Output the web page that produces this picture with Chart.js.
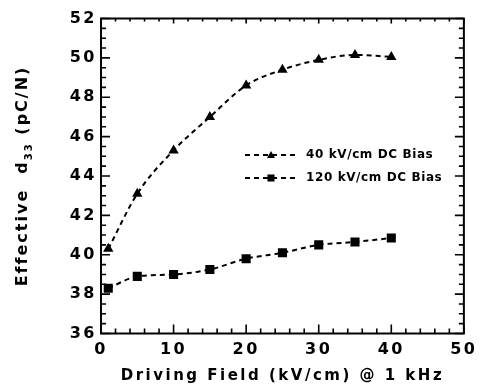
<!DOCTYPE html>
<html>
<head>
<meta charset="utf-8">
<script src="https://cdn.jsdelivr.net/npm/chart.js@4.4.1/dist/chart.umd.min.js"></script>
<style>
  html, body { margin: 0; padding: 0; background: #fff; }
  #wrap { width: 482px; height: 385px; }
</style>
</head>
<body>
<div id="wrap"><canvas id="c" width="482" height="385"></canvas></div>
<script>
// ---- data ----
const drivingField = [1, 5, 10, 15, 20, 25, 30, 35, 40];
const bias40 = [40.3, 43.1, 45.3, 47.0, 48.6, 49.4, 49.9, 50.15, 50.05];
const bias120 = [38.3, 38.9, 39.0, 39.25, 39.8, 40.1, 40.5, 40.65, 40.85];
const seriesLabels = ['40 kV/cm DC Bias', '120 kV/cm DC Bias'];
const xTicks = [0, 10, 20, 30, 40, 50];
const yTicks = [36, 38, 40, 42, 44, 46, 48, 50, 52];
const xTitle = 'Driving Field (kV/cm) @ 1 kHz';
const yTitleParts = ['Effective  d', '33', ' (pC/N)'];

const FONT = '"DejaVu Sans", "Liberation Sans", Arial, sans-serif';

function pts(ys) { return drivingField.map((x, i) => ({ x: x, y: ys[i] })); }

const spacingPlugin = {
  id: 'spacing',
  beforeDraw(chart) { chart.ctx.letterSpacing = '2.5px'; },
  afterDatasetsDraw(chart) { chart.ctx.letterSpacing = '0px'; }
};

const framePlugin = {
  id: 'frame',
  afterDraw(chart) {
    const ctx = chart.ctx;
    const a = chart.chartArea;
    const xs = chart.scales.x, ys = chart.scales.y;
    ctx.save();
    ctx.strokeStyle = '#000';
    ctx.lineWidth = 2;
    ctx.strokeRect(a.left, a.top, a.right - a.left, a.bottom - a.top);
    ctx.lineWidth = 1.6;
    ctx.beginPath();
    // x ticks (minor every 2, major every 10)
    for (let v = xs.min; v <= xs.max + 1e-9; v += 2) {
      const px = xs.getPixelForValue(v);
      const major = Math.abs(v % 10) < 1e-9;
      const len = major ? 9 : 5;
      ctx.moveTo(px, a.bottom); ctx.lineTo(px, a.bottom - len);
      ctx.moveTo(px, a.top); ctx.lineTo(px, a.top + (major ? 5 : 3));
    }
    // y ticks (minor every 0.5, major every 2)
    for (let v = ys.min; v <= ys.max + 1e-9; v += 0.5) {
      const py = ys.getPixelForValue(v);
      const major = Math.abs(v % 2) < 1e-9;
      const len = major ? 9 : 5;
      ctx.moveTo(a.left, py); ctx.lineTo(a.left + len, py);
      ctx.moveTo(a.right, py); ctx.lineTo(a.right - len, py);
    }
    ctx.stroke();

    // y title with subscript
    ctx.fillStyle = '#000';
    ctx.translate(23, (a.top + a.bottom) / 2);
    ctx.rotate(-Math.PI / 2);
    ctx.letterSpacing = '2px';
    const big = 'bold 16px ' + FONT, small = 'bold 10px ' + FONT;
    ctx.font = big; const w0 = ctx.measureText(yTitleParts[0]).width;
    ctx.font = small; const w1 = ctx.measureText(yTitleParts[1]).width;
    ctx.font = big; const w2 = ctx.measureText(yTitleParts[2]).width;
    let x = -(w0 + w1 + w2) / 2;
    ctx.textBaseline = 'middle';
    ctx.font = big; ctx.fillText(yTitleParts[0], x, 0); x += w0;
    ctx.font = small; ctx.fillText(yTitleParts[1], x, 6); x += w1;
    ctx.font = big; ctx.fillText(yTitleParts[2], x, 0);
    ctx.restore();

    // legend
    ctx.save();
    const rows = [a.top + 136.5, a.top + 159.5];
    chart.data.datasets.forEach((ds, i) => {
      const y = rows[i];
      const x0 = a.left + 144, x1 = a.left + 197, xm = a.left + 170;
      ctx.strokeStyle = '#000';
      ctx.lineWidth = ds.borderWidth;
      ctx.setLineDash(ds.borderDash);
      ctx.beginPath(); ctx.moveTo(x0, y); ctx.lineTo(x1, y); ctx.stroke();
      ctx.setLineDash([]);
      ctx.fillStyle = '#000';
      ctx.beginPath();
      const r = ds.pointRadius;
      if (ds.pointStyle === 'triangle') {
        ctx.moveTo(xm, y - r); ctx.lineTo(xm + r, y + r * 0.75); ctx.lineTo(xm - r, y + r * 0.75);
        ctx.closePath();
      } else {
        const s = r * Math.SQRT1_2;
        ctx.rect(xm - s, y - s, 2 * s, 2 * s);
      }
      ctx.fill();
      ctx.font = 'bold 12px ' + FONT;
      ctx.letterSpacing = '0.6px';
      ctx.textBaseline = 'middle';
      ctx.fillText(ds.label, a.left + 205, y);
    });
    ctx.restore();
  }
};

new Chart(document.getElementById('c'), {
  type: 'line',
  data: {
    datasets: [
      {
        label: seriesLabels[0], data: pts(bias40),
        borderColor: '#000', backgroundColor: '#000', borderWidth: 2, borderDash: [5, 4],
        pointStyle: 'triangle', pointRadius: 4, cubicInterpolationMode: 'monotone', fill: false
      },
      {
        label: seriesLabels[1], data: pts(bias120),
        borderColor: '#000', backgroundColor: '#000', borderWidth: 2, borderDash: [5, 4],
        pointStyle: 'rect', pointRadius: 5, cubicInterpolationMode: 'monotone', fill: false
      }
    ]
  },
  options: {
    responsive: false,
    animation: false,
    devicePixelRatio: 1,
    layout: { padding: { top: 18.5, right: 12, left: 0, bottom: 0 } },
    plugins: { legend: { display: false }, tooltip: { enabled: false } },
    scales: {
      x: {
        type: 'linear', min: 0, max: 50,
        afterBuildTicks: s => { s.ticks = xTicks.map(v => ({ value: v })); },
        afterFit: s => { s.height = 51.5; },
        grid: { display: false, drawTicks: false },
        border: { display: false },
        ticks: { color: '#000', font: { family: FONT, weight: 'bold', size: 16 }, padding: 7, maxRotation: 0 },
        title: { display: true, text: xTitle, color: '#000', font: { family: FONT, weight: 'bold', size: 15 }, padding: { top: 4, bottom: 0 } }
      },
      y: {
        min: 36, max: 52,
        afterBuildTicks: s => { s.ticks = yTicks.map(v => ({ value: v })); },
        afterFit: s => { s.width = 101; },
        grid: { display: false, drawTicks: false },
        border: { display: false },
        ticks: { color: '#000', font: { family: FONT, weight: 'bold', size: 16 }, padding: 4 }
      }
    }
  },
  plugins: [spacingPlugin, framePlugin]
});
</script>
</body>
</html>
